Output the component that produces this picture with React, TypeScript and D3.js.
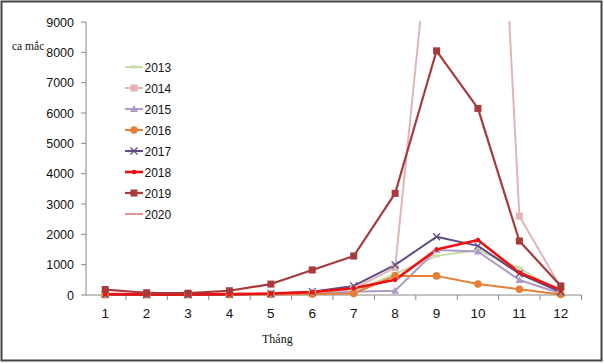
import * as d3 from "d3";
import React from "react";

const MONTHS = [1, 2, 3, 4, 5, 6, 7, 8, 9, 10, 11, 12];
const Y_TICKS = [0, 1000, 2000, 3000, 4000, 5000, 6000, 7000, 8000, 9000];

const YEARS = ["2013", "2014", "2015", "2016", "2017", "2018", "2019", "2020"];
const V2013 = [10, 10, 10, 10, 20, 40, 100, 700, 1290, 1480, 890, 80];
const V2014 = [20, 10, 10, 20, 30, 60, 200, 900, 14300, 29000, 2600, 250];
const V2015 = [10, 10, 10, 10, 20, 30, 110, 140, 1480, 1430, 495, 50];
const V2016 = [10, 10, 10, 10, 20, 30, 50, 630, 630, 360, 190, 20];
const V2017 = [20, 10, 10, 20, 40, 110, 300, 990, 1920, 1620, 700, 100];
const V2018 = [30, 20, 20, 30, 50, 100, 220, 500, 1500, 1810, 740, 170];
const V2019 = [180, 75, 60, 140, 360, 825, 1285, 3350, 8050, 6150, 1780, 300];
const V2020: (number | null)[] = [null, null, null, null, null, null, null, null, null, null, null, null];

const SERIES = [V2013, V2014, V2015, V2016, V2017, V2018, V2019, V2020];

const STYLE = [
  { color: "#c9dca8", marker: "dash", w: 2 },
  { color: "#e3b4b4", marker: "square", w: 2 },
  { color: "#ad9bc9", marker: "triangle", w: 2 },
  { color: "#e57f35", marker: "circle", w: 2 },
  { color: "#5e4a86", marker: "x", w: 2 },
  { color: "#ee1111", marker: "dot", w: 2.6 },
  { color: "#a83a3c", marker: "square", w: 2.2 },
  { color: "#d9979a", marker: "none", w: 2 },
];

const W = 604;
const H = 363;

function Marker({ type, x, y, color }: { type: string; x: number; y: number; color: string }) {
  if (type === "square") return <rect x={x - 3.5} y={y - 3.5} width={7} height={7} fill={color} />;
  if (type === "circle") return <circle cx={x} cy={y} r={3.8} fill={color} />;
  if (type === "dot") return <circle cx={x} cy={y} r={2.3} fill={color} />;
  if (type === "triangle")
    return <path d={`M${x},${y - 4}L${x + 4},${y + 3}L${x - 4},${y + 3}Z`} fill={color} />;
  if (type === "x")
    return (
      <path
        d={`M${x - 3.5},${y - 3.5}L${x + 3.5},${y + 3.5}M${x - 3.5},${y + 3.5}L${x + 3.5},${y - 3.5}`}
        stroke={color}
        strokeWidth={1.3}
      />
    );
  if (type === "dash") return <rect x={x - 3.5} y={y - 1.5} width={7} height={3} fill={color} />;
  return null;
}

export default function App() {
  const x = d3.scaleBand<number>().domain(MONTHS).range([84.5, 581.5]);
  const y = d3.scaleLinear().domain([0, 9000]).range([295, 22]);
  const cx = (m: number) => (x(m) as number) + x.bandwidth() / 2;

  const line = d3
    .line<number | null>()
    .defined((d) => d != null)
    .x((_, i) => cx(MONTHS[i]))
    .y((d) => y(d as number));

  return (
    <svg
      width={W}
      height={H}
      style={{ position: "fixed", left: 0, top: 0, background: "#fff" }}
      fontFamily="'Liberation Sans', Arial, sans-serif"
    >
      <rect x={0} y={0} width={W} height={H} fill="#fff" />
      <rect x={1.5} y={1.5} width={600} height={359} fill="none" stroke="#444" strokeWidth={2} />

      <defs>
        <clipPath id="plot">
          <rect x={84} y={y(9000) - 1} width={500} height={y(0) - y(9000) + 8} />
        </clipPath>
      </defs>

      {/* y axis */}
      <line x1={86} x2={86} y1={y(9000)} y2={y(0)} stroke="#888" strokeWidth={1} />
      {Y_TICKS.map((t) => (
        <g key={t}>
          <line x1={81} x2={86} y1={y(t)} y2={y(t)} stroke="#888" />
          <text x={74} y={y(t) + 4.5} textAnchor="end" fontSize={12.5} fill="#111">
            {t}
          </text>
        </g>
      ))}

      {/* x axis */}
      <line x1={86} x2={581.5} y1={y(0)} y2={y(0)} stroke="#888" />
      {MONTHS.map((m) => (
        <line key={"t" + m} x1={(x(m) as number) + x.bandwidth()} x2={(x(m) as number) + x.bandwidth()} y1={y(0)} y2={y(0) + 5} stroke="#888" />
      ))}
      {MONTHS.map((m) => (
        <text key={"l" + m} x={cx(m)} y={318} textAnchor="middle" fontSize={13.5} fill="#111">
          {m}
        </text>
      ))}

      <text x={12} y={50} fontFamily="'Liberation Serif', 'Times New Roman', serif" fontSize={11.5} fill="#111">
        ca mắc
      </text>
      <text x={262} y={343} fontFamily="'Liberation Serif', 'Times New Roman', serif" fontSize={12} fill="#111">
        Tháng
      </text>

      {/* series */}
      <g clipPath="url(#plot)">
        {SERIES.map((s, i) => (
          <path
            key={YEARS[i]}
            d={line(s) || ""}
            fill="none"
            stroke={STYLE[i].color}
            strokeWidth={STYLE[i].w}
            strokeLinejoin="round"
          />
        ))}
        {SERIES.map((s, i) =>
          s.map((v, j) =>
            v == null ? null : (
              <Marker key={YEARS[i] + j} type={STYLE[i].marker} x={cx(MONTHS[j])} y={y(v)} color={STYLE[i].color} />
            )
          )
        )}
      </g>

      {/* legend */}
      {YEARS.map((yr, i) => {
        const ly = 67 + i * 21;
        return (
          <g key={"lg" + yr}>
            <line x1={125} x2={143} y1={ly} y2={ly} stroke={STYLE[i].color} strokeWidth={STYLE[i].w} />
            <Marker type={STYLE[i].marker} x={134} y={ly} color={STYLE[i].color} />
            <text x={144.5} y={ly + 4.5} fontSize={12} fill="#111">
              {yr}
            </text>
          </g>
        );
      })}
    </svg>
  );
}
